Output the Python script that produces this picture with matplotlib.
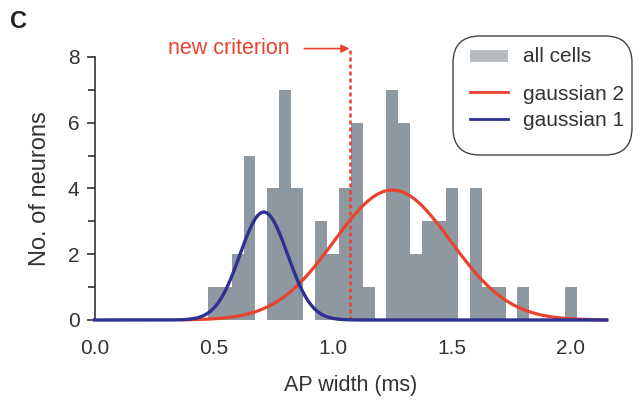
import numpy as np
import matplotlib
matplotlib.use("Agg")
import matplotlib.pyplot as plt
from matplotlib.patches import FancyBboxPatch, Rectangle
from matplotlib.lines import Line2D
from matplotlib.ticker import MultipleLocator

# histogram of AP widths (bin centres, 0.05 ms bins)
bin_centers = [0.50, 0.55, 0.60, 0.65, 0.70, 0.75, 0.80, 0.85, 0.90, 0.95,
               1.00, 1.05, 1.10, 1.15, 1.20, 1.25, 1.30, 1.35, 1.40, 1.45,
               1.50, 1.55, 1.60, 1.65, 1.70, 1.75, 1.80, 1.85, 1.90, 1.95, 2.00]
counts = [1, 1, 2, 5, 0, 4, 7, 4, 0, 3,
          2, 4, 6, 1, 0, 7, 6, 2, 3, 3,
          4, 0, 4, 1, 1, 0, 1, 0, 0, 0, 1]
bin_width = 0.05

# fitted gaussians: amplitude, mean, sd, range drawn
g1 = dict(amp=3.28, mu=0.71, sd=0.10, x0=0.0, x1=2.15)
g2 = dict(amp=3.95, mu=1.25, sd=0.245, x0=0.37, x1=2.15)
criterion = 1.07

legend_labels = ["all cells", "gaussian 2", "gaussian 1"]

bar_col = "#8e98a1"
red = "#e8432e"
blue = "#2e3192"
txt = "#333333"

plt.rcParams['font.family'] = ['Liberation Sans', 'DejaVu Sans']

fig = plt.figure(figsize=(6.4, 4.03), dpi=100)
ax = fig.add_axes([0.148, 0.206, 0.8, 0.653])

ax.bar(bin_centers, counts, width=bin_width, color=bar_col, linewidth=0)

def gauss(g):
    x = np.linspace(g['x0'], g['x1'], 400)
    return x, g['amp'] * np.exp(-(x - g['mu'])**2 / (2 * g['sd']**2))

x2, y2 = gauss(g2)
x1, y1 = gauss(g1)
ax.plot(x2, y2, color=red, lw=2.3, clip_on=False, zorder=3)
ax.plot(x1, y1, color=blue, lw=2.4, clip_on=False, zorder=4)

# criterion line and label
ax.plot([criterion, criterion], [0, 8.25], color=red, lw=1.8,
        ls=(0, (1.6, 1.2)), clip_on=False, zorder=2)
ax.annotate("", xy=(criterion, 8.25), xytext=(0.88, 8.25),
            arrowprops=dict(arrowstyle="-|>", color=red, lw=1.2,
                            mutation_scale=12, shrinkA=0, shrinkB=0),
            annotation_clip=False)
ax.text(0.565, 8.25, "new criterion", color=red, fontsize=15.5,
        ha='center', va='center')

ax.set_xlim(0.0, 2.15)
ax.set_ylim(0, 8)
ax.set_xticks([0.0, 0.5, 1.0, 1.5, 2.0])
ax.set_xticklabels(["0.0", "0.5", "1.0", "1.5", "2.0"])
ax.set_yticks([0, 2, 4, 6, 8])
ax.yaxis.set_minor_locator(MultipleLocator(1))

for s in ['top', 'right', 'bottom']:
    ax.spines[s].set_visible(False)
ax.spines['left'].set_color(txt)
ax.spines['left'].set_linewidth(1.2)
ax.tick_params(axis='y', which='major', length=6, width=1.2, color=txt,
               labelsize=15, labelcolor=txt, pad=5)
ax.tick_params(axis='y', which='minor', length=5, width=1.2, color=txt)
ax.tick_params(axis='x', length=0, labelsize=15, labelcolor=txt, pad=14)

ax.set_xlabel("AP width (ms)", fontsize=15.5, color=txt, labelpad=12)
ax.set_ylabel("No. of neurons", fontsize=17, color=txt, labelpad=12)

# legend drawn as a rounded box (positions in inches)
tr = fig.dpi_scale_trans
fig.patches.append(FancyBboxPatch((4.53, 2.48), 1.79, 1.19,
                                  boxstyle="round,pad=0,rounding_size=0.27",
                                  transform=tr, facecolor='white',
                                  edgecolor="#444444", linewidth=1.0))
fig.patches.append(Rectangle((4.70, 3.41), 0.38, 0.125, transform=tr,
                             facecolor="#b7bcc1", edgecolor='none'))
fig.lines.append(Line2D([4.70, 5.08], [3.11, 3.11], transform=tr,
                        color=red, lw=2))
fig.lines.append(Line2D([4.70, 5.08], [2.84, 2.84], transform=tr,
                        color=blue, lw=2))
for lab, yy in zip(legend_labels, [3.47, 3.09, 2.83]):
    fig.text(5.23, yy, lab, transform=tr, fontsize=15, color=txt,
             ha='left', va='center')

fig.text(0.015, 0.947, "C", fontsize=17, fontweight='bold', color="#222222",
         ha='left', va='center')

fig.savefig("out.png", dpi=100)
